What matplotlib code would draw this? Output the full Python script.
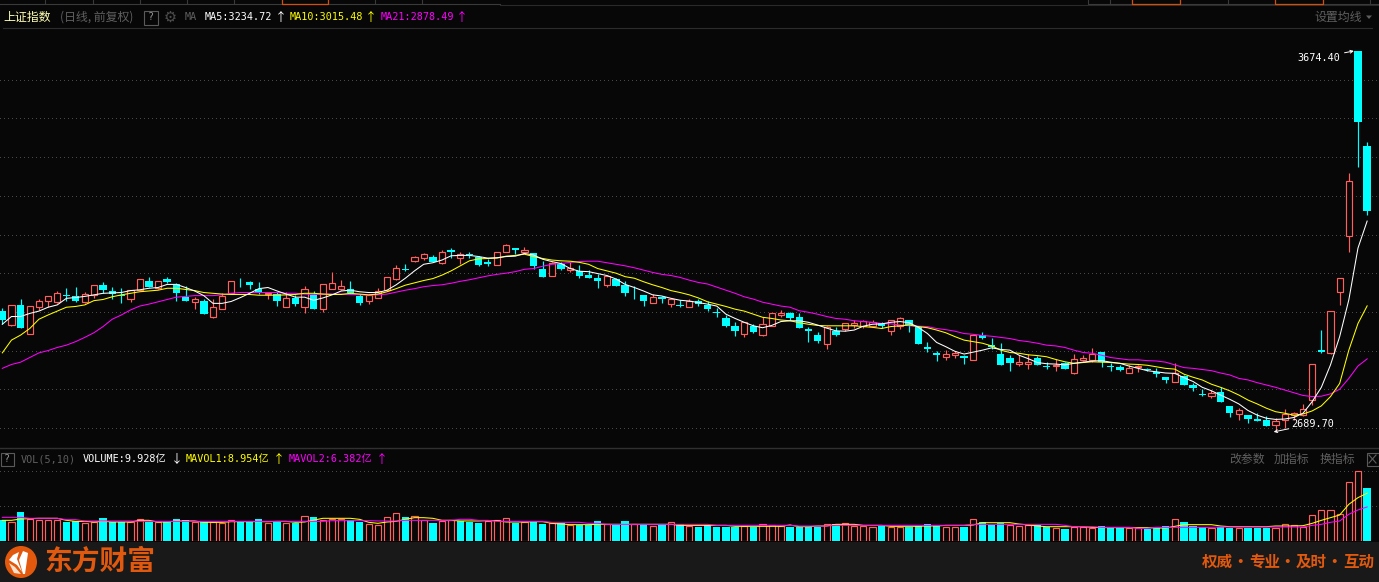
import matplotlib
matplotlib.use('Agg')
import matplotlib.pyplot as plt
from matplotlib.patches import Circle, Polygon, Rectangle

plt.rcParams['font.family'] = ['DejaVu Sans Mono', 'Noto Sans CJK SC']

# daily candles
opens = [3002, 2966, 3018, 2944, 3013, 3027, 3026, 3043, 3041, 3026,
         3044, 3070, 3054, 3043, 3032, 3057, 3080, 3063, 3085, 3072,
         3039, 3026, 3028, 2988, 3008, 3049, 3077, 3077, 3059, 3045,
         3046, 3013, 3036, 3013, 3044, 3007, 3060, 3059, 3058, 3042,
         3029, 3037, 3056, 3085, 3110, 3132, 3140, 3141, 3127, 3160,
         3140, 3150, 3142, 3128, 3122, 3156, 3165, 3155, 3151, 3111,
         3094, 3123, 3107, 3105, 3095, 3088, 3070, 3085, 3070, 3055,
         3044, 3024, 3038, 3021, 3017, 3013, 3027, 3018, 3000, 2984,
         2964, 2944, 2964, 2939, 2964, 2992, 2997, 2986, 2957, 2940,
         2918, 2950, 2957, 2965, 2964, 2964, 2970, 2951, 2963, 2978,
         2961, 2909, 2894, 2884, 2889, 2886, 2876, 2939, 2914, 2891,
         2881, 2864, 2864, 2881, 2860, 2860, 2867, 2843, 2876, 2876,
         2896, 2860, 2857, 2843, 2858, 2852, 2845, 2831, 2820, 2834,
         2811, 2787, 2783, 2793, 2757, 2737, 2733, 2722, 2721, 2707,
         2721, 2733, 2733, 2771, 2901, 2893, 3051, 3196, 3674.40, 3429]
closes = [2979, 3017, 2958, 3014, 3027, 3040, 3048, 3041, 3028, 3045,
          3069, 3057, 3047, 3040, 3056, 3084, 3064, 3079, 3077, 3049,
          3028, 3032, 2995, 3012, 3040, 3079, 3076, 3070, 3050, 3050,
          3028, 3035, 3021, 3058, 3007, 3071, 3074, 3066, 3048, 3023,
          3044, 3053, 3089, 3113, 3107, 3141, 3149, 3129, 3154, 3155,
          3150, 3146, 3121, 3125, 3154, 3172, 3160, 3159, 3119, 3090,
          3126, 3111, 3113, 3094, 3088, 3080, 3092, 3067, 3049, 3053,
          3028, 3038, 3032, 3033, 3015, 3029, 3021, 3007, 2998, 2964,
          2951, 2973, 2948, 2968, 2996, 2996, 2984, 2958, 2951, 2925,
          2960, 2941, 2970, 2970, 2976, 2975, 2964, 2978, 2983, 2966,
          2917, 2905, 2889, 2890, 2894, 2882, 2940, 2933, 2908, 2863,
          2868, 2870, 2870, 2863, 2858, 2863, 2852, 2877, 2880, 2891,
          2870, 2858, 2851, 2854, 2859, 2850, 2840, 2824, 2842, 2811,
          2803, 2785, 2789, 2768, 2739, 2746, 2723, 2719, 2705, 2717,
          2735, 2739, 2748, 2864, 2896, 3001, 3088, 3338, 3491, 3261]
highs = [3009, 3017, 3033, 3014, 3033, 3040, 3054, 3062, 3064, 3051,
         3069, 3077, 3064, 3062, 3056, 3086, 3090, 3081, 3090, 3075,
         3067, 3038, 3032, 3032, 3048, 3079, 3088, 3081, 3077, 3051,
         3051, 3051, 3044, 3066, 3054, 3071, 3103, 3082, 3080, 3045,
         3045, 3062, 3091, 3121, 3125, 3144, 3152, 3148, 3159, 3165,
         3156, 3156, 3144, 3136, 3155, 3175, 3165, 3168, 3153, 3131,
         3128, 3129, 3129, 3120, 3108, 3097, 3096, 3088, 3079, 3066,
         3044, 3046, 3042, 3036, 3030, 3033, 3032, 3028, 3010, 2991,
         2973, 2975, 2968, 2986, 2996, 3005, 3000, 2997, 2960, 2948,
         2963, 2960, 2972, 2978, 2979, 2978, 2974, 2979, 2987, 2978,
         2963, 2922, 2899, 2901, 2899, 2888, 2943, 2948, 2932, 2920,
         2888, 2888, 2890, 2886, 2870, 2877, 2870, 2891, 2888, 2907,
         2896, 2867, 2863, 2863, 2863, 2855, 2855, 2831, 2867, 2837,
         2816, 2801, 2798, 2805, 2757, 2751, 2733, 2739, 2731, 2726,
         2749, 2741, 2762, 2864, 2953, 3001, 3088, 3359, 3674.40, 3439]
lows = [2968, 2964, 2958, 2944, 3005, 3012, 3024, 3027, 3025, 3022,
        3037, 3048, 3033, 3023, 3026, 3056, 3064, 3058, 3074, 3028,
        3028, 3007, 2994, 2985, 3007, 3048, 3064, 3058, 3046, 3033,
        3015, 3012, 3015, 2998, 3007, 3000, 3058, 3056, 3045, 3018,
        3020, 3035, 3054, 3082, 3106, 3129, 3134, 3129, 3125, 3139,
        3125, 3139, 3119, 3119, 3120, 3155, 3149, 3154, 3111, 3090,
        3093, 3108, 3102, 3088, 3088, 3062, 3064, 3067, 3041, 3033,
        3015, 3024, 3023, 3013, 3013, 3013, 3014, 3001, 2987, 2961,
        2938, 2935, 2945, 2938, 2963, 2988, 2979, 2958, 2922, 2919,
        2904, 2938, 2950, 2958, 2958, 2961, 2958, 2940, 2956, 2948,
        2917, 2896, 2873, 2876, 2881, 2865, 2876, 2930, 2904, 2863,
        2847, 2860, 2852, 2863, 2852, 2847, 2852, 2840, 2872, 2870,
        2858, 2847, 2847, 2841, 2845, 2846, 2832, 2816, 2819, 2811,
        2795, 2782, 2778, 2768, 2728, 2720, 2713, 2719, 2705, 2689.70,
        2700, 2720, 2731, 2759, 2893, 2891, 3018, 3155, 3374, 3250]

ma5 = [2968, 2988, 2988, 2996, 3002, 3012, 3018, 3035, 3037, 3040,
       3044, 3048, 3049, 3050, 3055, 3057, 3061, 3063, 3071, 3071,
       3063, 3054, 3042, 3022, 3022, 3027, 3037, 3048, 3060, 3063,
       3054, 3046, 3038, 3038, 3030, 3036, 3044, 3054, 3056, 3052,
       3050, 3050, 3056, 3070, 3087, 3106, 3123, 3127, 3134, 3145,
       3146, 3146, 3143, 3139, 3140, 3143, 3144, 3151, 3147, 3136,
       3130, 3125, 3112, 3105, 3104, 3099, 3094, 3085, 3071, 3063,
       3054, 3044, 3041, 3035, 3030, 3028, 3024, 3020, 3015, 2994,
       2983, 2973, 2964, 2959, 2965, 2975, 2977, 2977, 2973, 2966,
       2958, 2951, 2950, 2953, 2963, 2968, 2969, 2973, 2975, 2972,
       2960, 2944, 2921, 2910, 2898, 2891, 2896, 2901, 2907, 2903,
       2901, 2888, 2879, 2869, 2866, 2865, 2863, 2867, 2870, 2873,
       2874, 2870, 2867, 2860, 2854, 2848, 2845, 2842, 2841, 2830,
       2820, 2805, 2796, 2785, 2774, 2762, 2745, 2733, 2725, 2722,
       2723, 2727, 2738, 2768, 2805, 2863, 2936, 3031, 3165, 3234.72]
ma10 = [2894, 2927, 2940, 2957, 2981, 2992, 3002, 3012, 3014, 3018,
        3029, 3032, 3039, 3044, 3048, 3052, 3054, 3056, 3061, 3061,
        3058, 3055, 3050, 3048, 3046, 3045, 3045, 3045, 3043, 3043,
        3043, 3044, 3045, 3048, 3048, 3046, 3045, 3045, 3048, 3046,
        3044, 3046, 3052, 3060, 3069, 3075, 3081, 3086, 3095, 3106,
        3119, 3132, 3137, 3138, 3139, 3144, 3146, 3149, 3143, 3138,
        3134, 3132, 3131, 3128, 3123, 3112, 3106, 3100, 3091, 3087,
        3078, 3070, 3063, 3055, 3050, 3044, 3036, 3026, 3020, 3014,
        3007, 3002, 2994, 2986, 2983, 2979, 2977, 2972, 2968, 2965,
        2964, 2964, 2964, 2964, 2962, 2960, 2957, 2962, 2964, 2966,
        2962, 2959, 2953, 2946, 2936, 2927, 2923, 2919, 2912, 2901,
        2895, 2893, 2889, 2887, 2884, 2877, 2871, 2867, 2869, 2871,
        2870, 2869, 2867, 2865, 2864, 2862, 2858, 2854, 2852, 2839,
        2831, 2824, 2813, 2805, 2796, 2785, 2772, 2762, 2751, 2742,
        2738, 2733, 2736, 2744, 2757, 2781, 2815, 2901, 2970, 3015.48]
ma21 = [2854, 2864, 2870, 2882, 2894, 2900, 2908, 2914, 2923, 2934,
        2946, 2962, 2981, 2992, 3005, 3015, 3020, 3026, 3032, 3038,
        3040, 3042, 3042, 3042, 3044, 3048, 3050, 3050, 3050, 3050,
        3050, 3048, 3048, 3046, 3045, 3046, 3046, 3046, 3045, 3044,
        3043, 3044, 3046, 3051, 3056, 3060, 3065, 3068, 3070, 3074,
        3079, 3083, 3088, 3093, 3097, 3100, 3104, 3110, 3112, 3118,
        3123, 3125, 3128, 3130, 3131, 3131, 3127, 3123, 3119, 3114,
        3108, 3102, 3097, 3094, 3089, 3082, 3076, 3072, 3064, 3056,
        3048, 3039, 3033, 3025, 3020, 3015, 3012, 3003, 2999, 2994,
        2988, 2983, 2981, 2977, 2975, 2973, 2970, 2969, 2966, 2964,
        2963, 2962, 2957, 2954, 2950, 2944, 2942, 2939, 2937, 2934,
        2931, 2926, 2923, 2919, 2914, 2912, 2908, 2901, 2895, 2893,
        2888, 2882, 2879, 2876, 2876, 2874, 2873, 2870, 2863, 2856,
        2854, 2851, 2848, 2842, 2837, 2828, 2824, 2817, 2811, 2805,
        2798, 2791, 2784, 2781, 2782, 2788, 2800, 2828, 2860, 2878.49]

# volume, in 亿
volumes = [3.87, 3.62, 5.43, 4.12, 4.00, 4.00, 4.00, 3.56, 3.75, 3.31,
           3.50, 4.31, 3.56, 3.56, 3.56, 4.06, 3.56, 3.56, 3.56, 4.12,
           3.87, 3.56, 3.56, 3.50, 3.31, 3.87, 3.50, 3.50, 4.12, 3.31,
           3.68, 3.43, 3.37, 4.62, 4.49, 4.00, 4.12, 4.12, 3.87, 3.50,
           3.12, 2.93, 4.43, 5.18, 4.49, 4.68, 3.87, 3.37, 3.75, 3.87,
           3.81, 3.62, 3.43, 3.81, 3.87, 4.25, 3.43, 3.56, 3.62, 3.25,
           3.31, 3.31, 3.00, 3.06, 2.93, 3.75, 3.12, 3.00, 3.75, 3.12,
           3.12, 2.75, 3.12, 3.50, 3.12, 2.75, 2.62, 2.93, 2.62, 2.68,
           2.68, 2.81, 2.68, 3.12, 2.93, 2.75, 2.62, 2.68, 2.62, 2.62,
           3.12, 3.18, 3.31, 2.87, 2.87, 2.56, 2.87, 2.68, 2.68, 2.62,
           2.87, 3.18, 2.81, 2.68, 2.56, 2.68, 4.06, 3.56, 3.00, 3.31,
           2.93, 2.75, 2.93, 3.00, 2.68, 2.37, 2.25, 2.56, 2.56, 2.50,
           2.81, 2.50, 2.50, 2.37, 2.37, 2.31, 2.37, 2.81, 4.06, 3.56,
           2.81, 2.68, 2.37, 2.68, 2.50, 2.50, 2.50, 2.50, 2.50, 2.50,
           3.12, 2.93, 2.68, 4.81, 5.74, 5.74, 5.06, 10.99, 13.05, 9.928]
vol_dirs = ('CRCRRRRCCR' 'RCCCRRCRCC' 'CRCRRRCCCR' 'CRCRCRRRCC' 'RRRRCRRCRR'
            'CCCRRRCRCC' 'RCRCCCRCCR' 'CRCRCRCCCC' 'CRCRRRCCCC' 'RCRRRRCRRC'
            'CCCRRCRCCC' 'RRRCCRCRRR' 'CCCRRCCCRC' 'CCRCCRCCCR' 'RRRRRRRRRC')
mavol1 = [3.87, 3.87, 4.12, 4.18, 4.25, 4.25, 4.25, 3.87, 3.68, 3.68,
          3.56, 3.68, 3.56, 3.56, 3.56, 3.87, 3.87, 3.56, 3.56, 3.75,
          3.75, 3.75, 3.50, 3.50, 3.50, 3.62, 3.62, 3.62, 3.62, 3.62,
          3.68, 3.68, 3.50, 3.56, 3.90, 4.25, 4.25, 4.25, 4.25, 4.06,
          3.50, 3.31, 3.56, 3.68, 4.06, 4.37, 4.37, 4.25, 3.87, 3.87,
          3.75, 3.75, 3.75, 3.81, 3.81, 3.56, 3.56, 3.56, 3.62, 3.62,
          3.31, 3.18, 3.06, 3.06, 3.06, 3.12, 3.12, 3.12, 3.12, 3.12,
          3.12, 3.12, 3.12, 3.12, 2.93, 2.93, 2.93, 2.93, 2.93, 2.93,
          2.75, 2.75, 2.75, 2.75, 2.75, 2.75, 3.00, 2.68, 2.68, 2.81,
          2.81, 3.12, 3.12, 3.12, 2.93, 2.93, 2.93, 2.75, 2.75, 2.75,
          2.75, 2.81, 2.81, 2.93, 2.93, 2.93, 3.00, 3.43, 3.43, 3.43,
          3.43, 3.18, 3.00, 2.81, 2.68, 2.68, 2.68, 2.68, 2.68, 2.56,
          2.50, 2.50, 2.50, 2.50, 2.50, 2.50, 2.43, 2.43, 2.75, 3.06,
          3.06, 3.06, 3.06, 2.81, 2.68, 2.68, 2.68, 2.68, 2.68, 2.81,
          2.81, 2.81, 2.87, 3.31, 3.87, 4.37, 4.87, 6.87, 8.12, 8.954]
mavol2 = [4.43, 4.43, 4.43, 4.25, 4.25, 4.25, 4.25, 4.00, 4.00, 3.75,
          3.75, 3.75, 3.75, 3.75, 3.75, 3.68, 3.68, 3.68, 3.68, 3.68,
          3.68, 3.68, 3.68, 3.68, 3.68, 3.68, 3.68, 3.68, 3.68, 3.68,
          3.68, 3.68, 3.68, 3.68, 3.68, 3.68, 3.81, 3.81, 3.81, 3.81,
          3.81, 3.75, 3.75, 3.75, 3.87, 3.87, 3.87, 3.87, 3.87, 3.87,
          4.06, 4.06, 3.87, 3.87, 3.68, 3.68, 3.68, 3.68, 3.68, 3.68,
          3.50, 3.50, 3.50, 3.50, 3.31, 3.31, 3.12, 3.12, 3.12, 3.12,
          3.12, 3.12, 3.12, 3.12, 3.12, 3.12, 3.12, 3.12, 2.93, 2.93,
          2.93, 2.93, 2.93, 2.93, 2.93, 2.93, 2.93, 2.81, 2.81, 2.81,
          2.81, 2.93, 2.93, 2.93, 2.93, 2.93, 2.93, 2.93, 2.93, 2.93,
          2.93, 2.93, 2.93, 2.93, 2.93, 2.93, 3.12, 3.12, 3.12, 3.12,
          3.12, 3.12, 3.12, 3.12, 3.12, 3.12, 2.93, 2.68, 2.68, 2.68,
          2.56, 2.56, 2.56, 2.56, 2.37, 2.37, 2.56, 2.56, 2.56, 2.56,
          2.56, 2.56, 2.56, 2.62, 2.62, 2.62, 2.62, 2.62, 2.62, 2.62,
          2.62, 2.62, 2.62, 2.93, 3.12, 3.50, 3.75, 5.00, 5.81, 6.382]

price_grid = [3600, 3500, 3400, 3300, 3200, 3100, 3000, 2900, 2800, 2700]
vol_grid = [6.56, 13.1]

BG = '#070707'
FOOT = '#191919'
RED = '#ff5f5f'
CYAN = '#00ffff'
GRID = '#484848'
GRAY = '#5f5f5f'
ORANGE = '#e0590f'
YELLOW = '#ffff00'
MAGENTA = '#ff00ff'

W, H = 1379, 582
# one candle every 9.16 px, first one at x=2.3 px
xlim = (-2.3 / 9.16, (W - 2.3) / 9.16)
days = list(range(len(opens)))


def place(fig, top, bottom):
    return fig.add_axes([0, (H - bottom) / H, 1, (bottom - top) / H])


def draw_bars(ax, low_vals, high_vals, up):
    # hollow red, solid cyan
    wr = 6.2 / 9.16
    wc = 7.4 / 9.16
    for i in days:
        b = min(low_vals[i], high_vals[i])
        h = abs(high_vals[i] - low_vals[i])
        if up[i]:
            ax.bar(i, h, wr, bottom=b, facecolor=BG, edgecolor=RED, linewidth=0.85,
                   zorder=3, snap=True)
        else:
            ax.bar(i, h, wc, bottom=b, facecolor=CYAN, edgecolor='none', linewidth=0,
                   zorder=3, snap=True)


fig = plt.figure(figsize=(W / 100, H / 100), dpi=100, facecolor=BG)

# price panel
ax = place(fig, 28, 447)
ax.set_xlim(*xlim)
ax.set_ylim(2650.7, 3733.8)
ax.axis('off')
ax.hlines(price_grid, *xlim, color=GRID, lw=0.72, linestyle=(0, (1, 3.6)), zorder=1, antialiased=False)
up_candle = [c >= o for o, c in zip(opens, closes)]
for i in days:
    ax.vlines(i, lows[i], highs[i], color=RED if up_candle[i] else CYAN, lw=0.85, zorder=2)
draw_bars(ax, opens, closes, up_candle)
ax.plot(days, ma21, color=MAGENTA, lw=0.75, zorder=4)
ax.plot(days, ma10, color=YELLOW, lw=0.75, zorder=5)
ax.plot(days, ma5, color='white', lw=0.75, zorder=6)

hi_i = highs.index(max(highs))
lo_i = lows.index(min(lows))
ax.annotate('%.2f' % highs[hi_i], xy=(hi_i - 0.45, highs[hi_i]), xytext=(1297.5 / 9.16 - 0.25, 3657),
            color='white', fontsize=7.3, va='center', ha='left', zorder=8,
            arrowprops=dict(arrowstyle='->', color='white', lw=0.7, mutation_scale=5, shrinkA=1, shrinkB=0))
ax.annotate('%.2f' % lows[lo_i], xy=(lo_i - 0.2, lows[lo_i]), xytext=(1291.5 / 9.16 - 0.25, 2711),
            color='white', fontsize=7.3, va='center', ha='left', zorder=8,
            arrowprops=dict(arrowstyle='->', color='white', lw=0.7, mutation_scale=5, shrinkA=0, shrinkB=0))

# volume panel
vax = place(fig, 447, 541)
vax.set_xlim(*xlim)
vax.set_ylim(0, 94 * 0.1873)
vax.axis('off')
vax.hlines(vol_grid, *xlim, color=GRID, lw=0.72, linestyle=(0, (1, 3.6)), zorder=1, antialiased=False)
draw_bars(vax, [0] * len(days), volumes, [d == 'R' for d in vol_dirs])
vax.plot(days, mavol1, color=YELLOW, lw=0.75, zorder=5)
vax.plot(days, mavol2, color=MAGENTA, lw=0.75, zorder=6)

# everything around the panels, in pixels
ui = fig.add_axes([0, 0, 1, 1], zorder=10)
ui.set_xlim(0, W)
ui.set_ylim(H, 0)
ui.axis('off')
ui.patch.set_alpha(0)

# tab strip at the very top
ui.plot([0, 500], [3.5, 3.5], color='#3a3a3a', lw=0.8)
ui.plot([500, W], [4.5, 4.5], color='#2a2a2a', lw=0.8)
ui.plot([1088, W], [3.5, 3.5], color='#3a3a3a', lw=0.8)
for tx in [45, 93, 140, 187, 234, 375, 422, 1088, 1110, 1228, 1370]:
    ui.plot([tx, tx], [0, 3], color='#3a3a3a', lw=0.8)
for x0, x1 in [(282, 328), (1132, 1180), (1275, 1323)]:
    ui.plot([x0, x0, x1, x1], [0, 3.5, 3.5, 0], color='#d2500f', lw=0.9)

ui.plot([3, 1372], [27.5, 27.5], color='#2c2c2c', lw=0.8)
ui.plot([0, W], [447.5, 447.5], color='#303030', lw=1.0)
ui.add_patch(Rectangle((0, 542), W, 40, facecolor=FOOT, edgecolor='none'))

cjk = ['Noto Sans CJK SC', 'DejaVu Sans']
mono = ['DejaVu Sans Mono', 'Noto Sans CJK SC']


def label(x, y, s, color, size=7.3, family=mono, **kw):
    ui.text(x, y, s, color=color, fontsize=size, family=family, va='center', ha='left', **kw)


label(3, 17, '上证指数', '#ffffb4', 8.6, cjk)
label(60, 17, '(日线, 前复权)', GRAY, 8.6, cjk)
ui.add_patch(Rectangle((143.5, 10.5), 14, 14, fill=False, edgecolor='#5a5a5a', lw=0.8))
label(147.5, 17.5, '?', '#909090')
label(164, 17, '\u2699', '#4d4d4d', 10.5, ['DejaVu Sans'])
label(185, 17.5, 'MA', GRAY)
label(205, 17.5, 'MA5:3234.72', 'white')
label(275, 17.5, '↑', 'white', 8.6, cjk)
label(290, 17.5, 'MA10:3015.48', YELLOW)
label(365, 17.5, '↑', YELLOW, 8.6, cjk)
label(381, 17.5, 'MA21:2878.49', MAGENTA)
label(456, 17.5, '↑', MAGENTA, 8.6, cjk)
label(1314, 17, '设置均线', GRAY, 8.6, cjk)
ui.add_patch(Polygon([[1366, 15.5], [1372, 15.5], [1369, 19]], facecolor=GRAY, edgecolor='none'))

ui.add_patch(Rectangle((0.5, 452.5), 13, 13, fill=False, edgecolor='#5a5a5a', lw=0.8))
label(4, 459.5, '?', '#909090')
label(21, 459, 'VOL(5,10)', GRAY)
label(83, 459, 'VOLUME:9.928亿', 'white')
label(171, 459, '↓', 'white', 8.6, cjk)
label(186, 459, 'MAVOL1:8.954亿', YELLOW)
label(273, 459, '↑', YELLOW, 8.6, cjk)
label(289, 459, 'MAVOL2:6.382亿', MAGENTA)
label(376, 459, '↑', MAGENTA, 8.6, cjk)
label(1229, 459, '改参数', GRAY, 8.6, cjk)
label(1274, 459, '加指标', GRAY, 8.6, cjk)
label(1320, 459, '换指标', GRAY, 8.6, cjk)
ui.add_patch(Rectangle((1366.5, 452.5), 12, 13, fill=False, edgecolor='#5a5a5a', lw=0.8))
ui.plot([1369, 1376], [455, 463], color=GRAY, lw=0.8)
ui.plot([1376, 1369], [455, 463], color=GRAY, lw=0.8)

# logo
ui.add_patch(Circle((21, 562), 16, facecolor='#e2590d', edgecolor='none'))
ui.add_patch(Polygon([[23, 551], [28, 553], [25, 574], [23, 574], [19, 560]], facecolor='white', edgecolor='none'))
ui.add_patch(Polygon([[19, 552], [13, 555], [9, 560], [17, 565], [22, 572], [17, 559]], facecolor='white', edgecolor='none'))
ui.add_patch(Polygon([[9, 563], [15, 567], [21, 574], [14, 573]], facecolor='#ffe0cc', edgecolor='none'))
label(44, 562, '东方财富', ORANGE, 20, cjk, fontweight='bold')
# slogan: the four words sit on a fixed 47 px pitch
for wx, word in zip([1202, 1249, 1296, 1343], ['权威', '专业', '及时', '互动']):
    label(wx, 562, word, ORANGE, 11.2, cjk, fontweight='bold')
for dx in [1240, 1287, 1334]:
    ui.text(dx, 562, '·', color=ORANGE, fontsize=11.2, family=cjk, fontweight='bold', va='center', ha='center')

fig.savefig('out.png', dpi=100, facecolor=BG)
